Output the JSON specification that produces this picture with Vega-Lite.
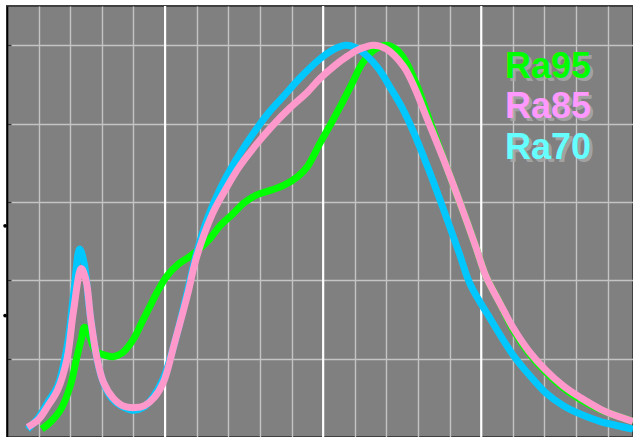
{
  "$schema": "https://vega.github.io/schema/vega-lite/v6.json",
  "width": 626,
  "height": 431,
  "autosize": {"type": "none"},
  "padding": {"left": 7, "top": 6, "right": 0, "bottom": 0},
  "background": "white",
  "config": {
    "view": {"fill": "#808080", "stroke": "#404040", "strokeWidth": 2},
    "font": "Liberation Sans"
  },
  "datasets": {
    "spec": [
      {"series": "Ra95", "nm": 422, "v": 0.02}, {"series": "Ra95", "nm": 428, "v": 0.04}, {"series": "Ra95", "nm": 434, "v": 0.07},
      {"series": "Ra95", "nm": 440, "v": 0.13}, {"series": "Ra95", "nm": 444, "v": 0.2}, {"series": "Ra95", "nm": 447, "v": 0.25},
      {"series": "Ra95", "nm": 449, "v": 0.28}, {"series": "Ra95", "nm": 452, "v": 0.26}, {"series": "Ra95", "nm": 456, "v": 0.22},
      {"series": "Ra95", "nm": 461, "v": 0.21}, {"series": "Ra95", "nm": 467, "v": 0.205}, {"series": "Ra95", "nm": 473, "v": 0.215},
      {"series": "Ra95", "nm": 480, "v": 0.25}, {"series": "Ra95", "nm": 485, "v": 0.29}, {"series": "Ra95", "nm": 490, "v": 0.33},
      {"series": "Ra95", "nm": 495, "v": 0.37}, {"series": "Ra95", "nm": 501, "v": 0.41}, {"series": "Ra95", "nm": 508, "v": 0.44},
      {"series": "Ra95", "nm": 516, "v": 0.462}, {"series": "Ra95", "nm": 527, "v": 0.5}, {"series": "Ra95", "nm": 535, "v": 0.54},
      {"series": "Ra95", "nm": 543, "v": 0.57}, {"series": "Ra95", "nm": 550, "v": 0.598}, {"series": "Ra95", "nm": 558, "v": 0.618},
      {"series": "Ra95", "nm": 567, "v": 0.63}, {"series": "Ra95", "nm": 575, "v": 0.642}, {"series": "Ra95", "nm": 584, "v": 0.665},
      {"series": "Ra95", "nm": 590, "v": 0.69}, {"series": "Ra95", "nm": 598, "v": 0.75}, {"series": "Ra95", "nm": 605, "v": 0.8},
      {"series": "Ra95", "nm": 611, "v": 0.845}, {"series": "Ra95", "nm": 618, "v": 0.9}, {"series": "Ra95", "nm": 625, "v": 0.955},
      {"series": "Ra95", "nm": 633, "v": 0.99}, {"series": "Ra95", "nm": 640, "v": 1.0}, {"series": "Ra95", "nm": 646, "v": 0.99},
      {"series": "Ra95", "nm": 652, "v": 0.96}, {"series": "Ra95", "nm": 660, "v": 0.89}, {"series": "Ra95", "nm": 668, "v": 0.8},
      {"series": "Ra95", "nm": 678, "v": 0.69}, {"series": "Ra95", "nm": 690, "v": 0.56}, {"series": "Ra95", "nm": 697, "v": 0.48},
      {"series": "Ra95", "nm": 703, "v": 0.41}, {"series": "Ra95", "nm": 712, "v": 0.34}, {"series": "Ra95", "nm": 720, "v": 0.275},
      {"series": "Ra95", "nm": 730, "v": 0.215}, {"series": "Ra95", "nm": 741, "v": 0.165}, {"series": "Ra95", "nm": 752, "v": 0.125},
      {"series": "Ra95", "nm": 763, "v": 0.095}, {"series": "Ra95", "nm": 775, "v": 0.07}, {"series": "Ra95", "nm": 785, "v": 0.055},
      {"series": "Ra95", "nm": 796, "v": 0.04},

      {"series": "Ra70", "nm": 413, "v": 0.02}, {"series": "Ra70", "nm": 420, "v": 0.05}, {"series": "Ra70", "nm": 426, "v": 0.09},
      {"series": "Ra70", "nm": 432, "v": 0.13}, {"series": "Ra70", "nm": 438, "v": 0.23}, {"series": "Ra70", "nm": 442, "v": 0.36},
      {"series": "Ra70", "nm": 446, "v": 0.48}, {"series": "Ra70", "nm": 449, "v": 0.44}, {"series": "Ra70", "nm": 452, "v": 0.33},
      {"series": "Ra70", "nm": 456, "v": 0.22}, {"series": "Ra70", "nm": 460, "v": 0.15}, {"series": "Ra70", "nm": 466, "v": 0.1},
      {"series": "Ra70", "nm": 472, "v": 0.08}, {"series": "Ra70", "nm": 480, "v": 0.068}, {"series": "Ra70", "nm": 486, "v": 0.075},
      {"series": "Ra70", "nm": 492, "v": 0.1}, {"series": "Ra70", "nm": 499, "v": 0.15}, {"series": "Ra70", "nm": 506, "v": 0.24},
      {"series": "Ra70", "nm": 514, "v": 0.37}, {"series": "Ra70", "nm": 520, "v": 0.47}, {"series": "Ra70", "nm": 527, "v": 0.56},
      {"series": "Ra70", "nm": 535, "v": 0.635}, {"series": "Ra70", "nm": 543, "v": 0.695}, {"series": "Ra70", "nm": 555, "v": 0.77},
      {"series": "Ra70", "nm": 565, "v": 0.825}, {"series": "Ra70", "nm": 575, "v": 0.87}, {"series": "Ra70", "nm": 585, "v": 0.915},
      {"series": "Ra70", "nm": 598, "v": 0.965}, {"series": "Ra70", "nm": 607, "v": 0.99}, {"series": "Ra70", "nm": 614, "v": 1.0},
      {"series": "Ra70", "nm": 620, "v": 0.995}, {"series": "Ra70", "nm": 627, "v": 0.975}, {"series": "Ra70", "nm": 635, "v": 0.94},
      {"series": "Ra70", "nm": 642, "v": 0.895}, {"series": "Ra70", "nm": 650, "v": 0.84}, {"series": "Ra70", "nm": 657, "v": 0.78},
      {"series": "Ra70", "nm": 667, "v": 0.68}, {"series": "Ra70", "nm": 678, "v": 0.56}, {"series": "Ra70", "nm": 686, "v": 0.47},
      {"series": "Ra70", "nm": 693, "v": 0.39}, {"series": "Ra70", "nm": 706, "v": 0.3}, {"series": "Ra70", "nm": 720, "v": 0.21},
      {"series": "Ra70", "nm": 730, "v": 0.16}, {"series": "Ra70", "nm": 741, "v": 0.112}, {"series": "Ra70", "nm": 752, "v": 0.08},
      {"series": "Ra70", "nm": 763, "v": 0.058}, {"series": "Ra70", "nm": 775, "v": 0.04}, {"series": "Ra70", "nm": 785, "v": 0.03},
      {"series": "Ra70", "nm": 796, "v": 0.02},

      {"series": "Ra85", "nm": 413, "v": 0.025}, {"series": "Ra85", "nm": 420, "v": 0.045}, {"series": "Ra85", "nm": 426, "v": 0.08},
      {"series": "Ra85", "nm": 432, "v": 0.12}, {"series": "Ra85", "nm": 438, "v": 0.2}, {"series": "Ra85", "nm": 442, "v": 0.32},
      {"series": "Ra85", "nm": 447, "v": 0.43}, {"series": "Ra85", "nm": 450, "v": 0.4}, {"series": "Ra85", "nm": 453, "v": 0.3},
      {"series": "Ra85", "nm": 457, "v": 0.2}, {"series": "Ra85", "nm": 461, "v": 0.14}, {"series": "Ra85", "nm": 467, "v": 0.1},
      {"series": "Ra85", "nm": 473, "v": 0.08}, {"series": "Ra85", "nm": 481, "v": 0.075}, {"series": "Ra85", "nm": 487, "v": 0.08},
      {"series": "Ra85", "nm": 493, "v": 0.1}, {"series": "Ra85", "nm": 499, "v": 0.14}, {"series": "Ra85", "nm": 506, "v": 0.24},
      {"series": "Ra85", "nm": 514, "v": 0.36}, {"series": "Ra85", "nm": 520, "v": 0.46}, {"series": "Ra85", "nm": 530, "v": 0.57},
      {"series": "Ra85", "nm": 538, "v": 0.63}, {"series": "Ra85", "nm": 547, "v": 0.69}, {"series": "Ra85", "nm": 558, "v": 0.748},
      {"series": "Ra85", "nm": 568, "v": 0.795}, {"series": "Ra85", "nm": 579, "v": 0.84}, {"series": "Ra85", "nm": 590, "v": 0.88},
      {"series": "Ra85", "nm": 598, "v": 0.915}, {"series": "Ra85", "nm": 607, "v": 0.947}, {"series": "Ra85", "nm": 614, "v": 0.968},
      {"series": "Ra85", "nm": 622, "v": 0.988}, {"series": "Ra85", "nm": 632, "v": 1.0}, {"series": "Ra85", "nm": 640, "v": 0.99},
      {"series": "Ra85", "nm": 651, "v": 0.945}, {"series": "Ra85", "nm": 658, "v": 0.89}, {"series": "Ra85", "nm": 665, "v": 0.82},
      {"series": "Ra85", "nm": 677, "v": 0.7}, {"series": "Ra85", "nm": 690, "v": 0.56}, {"series": "Ra85", "nm": 697, "v": 0.48},
      {"series": "Ra85", "nm": 703, "v": 0.41}, {"series": "Ra85", "nm": 712, "v": 0.34}, {"series": "Ra85", "nm": 720, "v": 0.28},
      {"series": "Ra85", "nm": 730, "v": 0.22}, {"series": "Ra85", "nm": 741, "v": 0.17}, {"series": "Ra85", "nm": 752, "v": 0.13},
      {"series": "Ra85", "nm": 763, "v": 0.1}, {"series": "Ra85", "nm": 775, "v": 0.072}, {"series": "Ra85", "nm": 785, "v": 0.055},
      {"series": "Ra85", "nm": 796, "v": 0.04}
    ],
    "labels": [
      {"label": "Ra95", "nm": 715, "v": 0.915},
      {"label": "Ra85", "nm": 715, "v": 0.813},
      {"label": "Ra70", "nm": 715, "v": 0.709}
    ],
    "major": [{"nm": 500}, {"nm": 600}, {"nm": 700}],
    "dots": [{"nm": 398.8, "v": 0.539}, {"nm": 398.8, "v": 0.31}]
  },
  "encoding": {
    "x": {"field": "nm", "type": "quantitative", "scale": {"domain": [400, 796], "nice": false, "zero": false}},
    "y": {"field": "v", "type": "quantitative", "scale": {"domain": [0, 1.1], "nice": false}}
  },
  "layer": [
    {
      "data": {"name": "major"},
      "mark": {"type": "rule", "color": "#c4c4c4", "strokeWidth": 0},
      "encoding": {
        "x": {
          "field": "nm", "type": "quantitative",
          "axis": {
            "orient": "bottom", "labels": false, "ticks": false, "domain": false, "title": null,
            "grid": true, "gridColor": "#c4c4c4", "gridWidth": 1.4, "gridOpacity": 1,
            "values": [420, 440, 460, 480, 520, 540, 560, 580, 620, 640, 660, 680, 720, 740, 760, 780]
          }
        },
        "y": {
          "datum": 0, "type": "quantitative",
          "axis": {
            "orient": "left", "labels": false, "title": null,
            "grid": true, "gridColor": "#c4c4c4", "gridWidth": 1.4, "gridOpacity": 1,
            "values": [0.2, 0.4, 0.6, 0.8, 1.0],
            "domain": true, "domainColor": "black", "domainWidth": 1.6,
            "ticks": true, "tickSize": -4, "tickColor": "#333333", "tickWidth": 1.5
          }
        }
      }
    },
    {
      "data": {"name": "major"},
      "mark": {"type": "rule", "color": "white", "strokeWidth": 2.2},
      "encoding": {
        "x": {"field": "nm", "type": "quantitative"},
        "y": {"value": 0},
        "y2": {"value": 431}
      }
    },
    {
      "data": {"name": "spec"},
      "transform": [{"filter": "datum.series === 'Ra95'"}],
      "mark": {"type": "line", "strokeWidth": 7, "interpolate": "catmull-rom"},
      "encoding": {
        "color": {"field": "series", "type": "nominal", "scale": {"domain": ["Ra95", "Ra85", "Ra70"], "range": ["#00ff00", "#ff99cc", "#00c8ff"]}, "legend": null}
      }
    },
    {
      "data": {"name": "spec"},
      "transform": [{"filter": "datum.series === 'Ra70'"}],
      "mark": {"type": "line", "strokeWidth": 7, "interpolate": "catmull-rom"},
      "encoding": {
        "color": {"field": "series", "type": "nominal", "legend": null}
      }
    },
    {
      "data": {"name": "spec"},
      "transform": [{"filter": "datum.series === 'Ra85'"}],
      "mark": {"type": "line", "strokeWidth": 7, "interpolate": "catmull-rom"},
      "encoding": {
        "color": {"field": "series", "type": "nominal", "legend": null}
      }
    },
    {
      "data": {"name": "labels"},
      "mark": {"type": "text", "font": "Liberation Sans", "fontWeight": "bold", "fontSize": 36, "align": "left", "baseline": "alphabetic", "dx": 3, "dy": 3, "color": "#a9a9a9", "opacity": 0.85},
      "encoding": {"text": {"field": "label"}}
    },
    {
      "data": {"name": "labels"},
      "mark": {"type": "text", "font": "Liberation Sans", "fontWeight": "bold", "fontSize": 36, "align": "left", "baseline": "alphabetic"},
      "encoding": {
        "text": {"field": "label"},
        "fill": {"field": "label", "type": "nominal", "scale": {"domain": ["Ra95", "Ra85", "Ra70"], "range": ["#00ff00", "#ff99ff", "#66ffff"]}, "legend": null}
      }
    },
    {
      "data": {"name": "dots"},
      "mark": {"type": "circle", "color": "black", "size": 14, "opacity": 1, "clip": false},
      "encoding": {}
    }
  ]
}
